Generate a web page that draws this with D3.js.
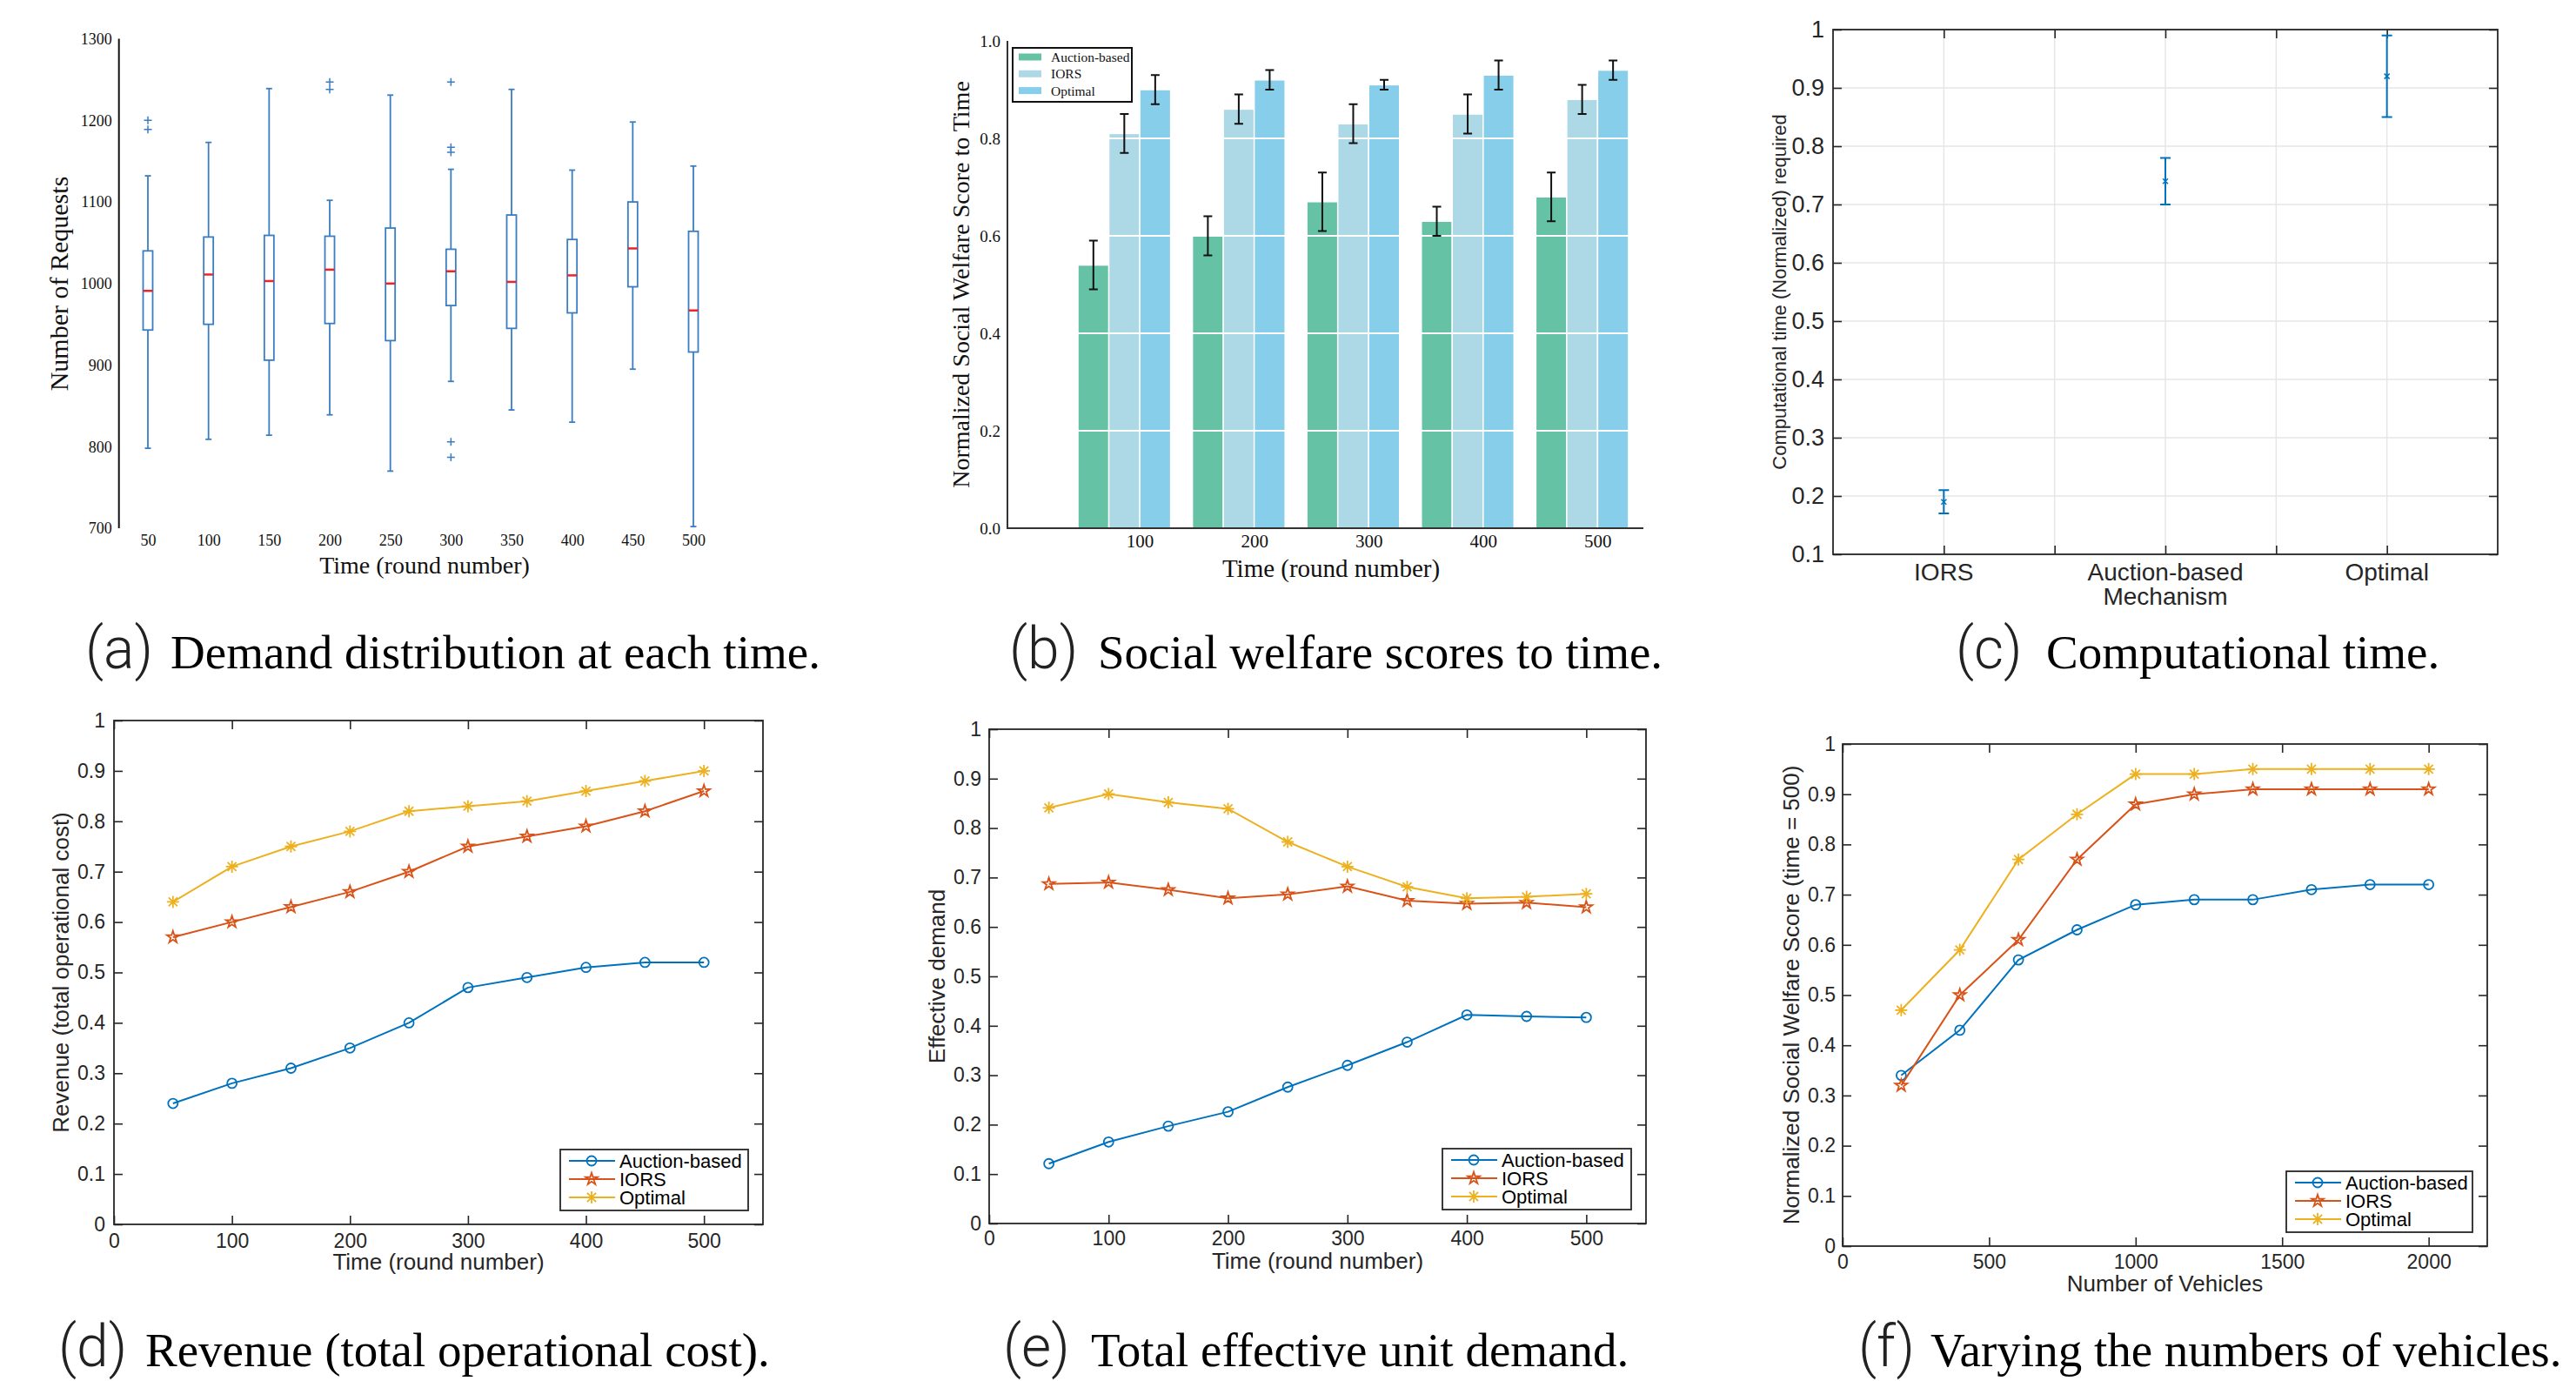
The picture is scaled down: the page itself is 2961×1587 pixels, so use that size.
<!DOCTYPE html>
<html><head><meta charset="utf-8">
<script src="https://cdn.jsdelivr.net/npm/d3@7"></script>
<style>body{margin:0;background:#fff}svg{display:block}</style>
</head><body>
<svg id="fig" width="2961" height="1587"></svg>
<script>
// ---------------- DATA ----------------
// (a) demand distribution box plots
const boxTimes = [50,100,150,200,250,300,350,400,450,500];
const boxWhiskerHigh = [1132,1173,1239,1102,1231,1140,1238,1139,1198,1144];
const boxQ3 = [1040,1057,1059,1058,1068,1042,1084,1054,1100,1064];
const boxMedian = [991,1011,1003,1017,1000,1015,1002,1010,1043,967];
const boxQ1 = [943,950,906,951,930,973,945,964,996,916];
const boxWhiskerLow = [798,809,814,839,770,880,845,830,895,702];
const boxOutliers = [[1200,1189],[],[],[1247,1238],[],[1247,1167,1161,806,787],[],[],[],[]];
const boxYTicks = [700,800,900,1000,1100,1200,1300];

// (b) social welfare bars
const welfareTimes = [100,200,300,400,500];
const welfareAuction = [0.54,0.60,0.67,0.63,0.68];
const welfareAuctionErr = [0.05,0.04,0.06,0.03,0.05];
const welfareIORS = [0.81,0.86,0.83,0.85,0.88];
const welfareIORSErr = [0.04,0.03,0.04,0.04,0.03];
const welfareOptimal = [0.90,0.92,0.91,0.93,0.94];
const welfareOptimalErr = [0.03,0.02,0.01,0.03,0.02];
const welfareYTicks = [0,0.2,0.4,0.6,0.8,1.0];

// (c) computational time
const compMechanisms = ["IORS","Auction-based|Mechanism","Optimal"];
const compMean = [0.19,0.74,0.92];
const compLow = [0.17,0.70,0.85];
const compHigh = [0.21,0.78,0.99];
const compYTicks = [0.1,0.2,0.3,0.4,0.5,0.6,0.7,0.8,0.9,1];

// (d) revenue
const revenueTimes = [50,100,150,200,250,300,350,400,450,500];
const revenueAuction = [0.24,0.28,0.31,0.35,0.40,0.47,0.49,0.51,0.52,0.52];
const revenueIORS = [0.57,0.60,0.63,0.66,0.70,0.75,0.77,0.79,0.82,0.86];
const revenueOptimal = [0.64,0.71,0.75,0.78,0.82,0.83,0.84,0.86,0.88,0.90];

// (e) effective demand
const demandTimes = [50,100,150,200,250,300,350,400,450,500];
const demandAuction = [0.121,0.165,0.197,0.226,0.276,0.320,0.367,0.422,0.419,0.417];
const demandIORS = [0.687,0.690,0.675,0.658,0.666,0.682,0.653,0.647,0.649,0.640];
const demandOptimal = [0.841,0.869,0.852,0.839,0.772,0.722,0.681,0.658,0.661,0.667];

// (f) varying vehicles
const vehicleCounts = [200,400,600,800,1000,1200,1400,1600,1800,2000];
const vehicleAuction = [0.34,0.43,0.57,0.63,0.68,0.69,0.69,0.71,0.72,0.72];
const vehicleIORS = [0.32,0.50,0.61,0.77,0.88,0.90,0.91,0.91,0.91,0.91];
const vehicleOptimal = [0.47,0.59,0.77,0.86,0.94,0.94,0.95,0.95,0.95,0.95];

const timeTicks = [0,100,200,300,400,500];
const vehicleTicks = [0,500,1000,1500,2000];
const unitTicks = [0,0.1,0.2,0.3,0.4,0.5,0.6,0.7,0.8,0.9,1];
const seriesNames = ["Auction-based","IORS","Optimal"];

// ---------------- DRAW ----------------
const svg = d3.select("#fig");
svg.append("rect").attr("width",2961).attr("height",1587).attr("fill","#fff");
const SERIF = "'Liberation Serif','Times New Roman',serif";
const SANS = "'Liberation Sans',Arial,Helvetica,sans-serif";
const INK = "#262626";
const mColors = ["#0072BD","#D95319","#EDB120"];

function markerPath(kind){
  if(kind===0) return d3.symbol(d3.symbolCircle, 95)();
  if(kind===1) return d3.symbol(d3.symbolStar, 60)();
  const r=7, d=r*0.72;
  return `M${-r},0L${r},0M0,${-r}L0,${r}M${-d},${-d}L${d},${d}M${-d},${d}L${d},${-d}`;
}

// ---- panel (a): box plot ----
(function(){
  const g = svg.append("g");
  const x = d3.scaleLinear().domain([50,500]).range([170,797]);
  const y = d3.scaleLinear().domain([700,1300]).range([607,44.6]);
  g.append("line").attr("x1",136.7).attr("x2",136.7).attr("y1",y(1300)).attr("y2",y(700))
    .attr("stroke","#111").attr("stroke-width",2);
  const ya = g.append("g").attr("transform","translate(136.7,0)")
    .call(d3.axisLeft(y).tickValues(boxYTicks).tickSize(0).tickPadding(8).tickFormat(d3.format("d")));
  ya.select(".domain").remove();
  ya.selectAll("text").attr("font-family",SERIF).attr("font-size",18).attr("fill","#111");
  const xa = g.append("g").attr("transform","translate(0,607)")
    .call(d3.axisBottom(x).tickValues(boxTimes).tickSize(0).tickPadding(7).tickFormat(d3.format("d")));
  xa.select(".domain").remove();
  xa.selectAll("text").attr("font-family",SERIF).attr("font-size",18).attr("fill","#111");
  const blue = "#3a7dc2", bw = 11, cw = 7;
  boxTimes.forEach((t,i)=>{
    const cx = x(t);
    g.append("line").attr("x1",cx).attr("x2",cx).attr("y1",y(boxWhiskerHigh[i])).attr("y2",y(boxQ3[i]))
      .attr("stroke",blue).attr("stroke-width",1.8);
    g.append("line").attr("x1",cx).attr("x2",cx).attr("y1",y(boxQ1[i])).attr("y2",y(boxWhiskerLow[i]))
      .attr("stroke",blue).attr("stroke-width",1.8);
    [boxWhiskerHigh[i],boxWhiskerLow[i]].forEach(v=>{
      g.append("line").attr("x1",cx-cw/2).attr("x2",cx+cw/2).attr("y1",y(v)).attr("y2",y(v))
        .attr("stroke",blue).attr("stroke-width",1.8);
    });
    g.append("rect").attr("x",cx-bw/2).attr("width",bw).attr("y",y(boxQ3[i]))
      .attr("height",y(boxQ1[i])-y(boxQ3[i])).attr("fill","#fff").attr("stroke",blue).attr("stroke-width",1.8);
    g.append("line").attr("x1",cx-bw/2).attr("x2",cx+bw/2).attr("y1",y(boxMedian[i])).attr("y2",y(boxMedian[i]))
      .attr("stroke","#e8262b").attr("stroke-width",2.5);
    boxOutliers[i].forEach(v=>{
      g.append("path").attr("d",`M${cx-4.5},${y(v)}L${cx+4.5},${y(v)}M${cx},${y(v)-4.5}L${cx},${y(v)+4.5}`)
        .attr("stroke",blue).attr("stroke-width",1.5).attr("fill","none");
    });
  });
  g.append("text").attr("transform","translate(67,326) rotate(-90)").attr("text-anchor","middle")
    .attr("dy","0.35em").attr("font-family",SERIF).attr("font-size",30).attr("fill","#111").text("Number of Requests");
  g.append("text").attr("x",488).attr("y",659).attr("text-anchor","middle")
    .attr("font-family",SERIF).attr("font-size",28).attr("fill","#111").text("Time (round number)");
})();

// ---- panel (b): grouped bars ----
(function(){
  const g = svg.append("g");
  const x = d3.scaleLinear().domain([-15.6,540]).range([1158,1889]);
  const y = d3.scaleLinear().domain([0,1]).range([607,47]);
  const w = 27;
  const groups = [
    {vals:welfareAuction, err:welfareAuctionErr, color:"#66c2a5", off:-2},
    {vals:welfareIORS, err:welfareIORSErr, color:"#add8e6", off:-1},
    {vals:welfareOptimal, err:welfareOptimalErr, color:"#87ceeb", off:0}
  ];
  groups.forEach(s=>{
    g.selectAll(null).data(welfareTimes).enter().append("rect")
      .attr("x",(t)=>x(t+s.off*w)).attr("width",(t)=>x(t+(s.off+1)*w)-x(t+s.off*w))
      .attr("y",(t,i)=>y(s.vals[i])).attr("height",(t,i)=>y(0)-y(s.vals[i]))
      .attr("fill",s.color).attr("stroke","#fff").attr("stroke-width",1.5);
  });
  [0.2,0.4,0.6,0.8].forEach(v=>{
    g.append("line").attr("x1",1159).attr("x2",1889).attr("y1",y(v)).attr("y2",y(v))
      .attr("stroke","#fff").attr("stroke-width",2);
  });
  groups.forEach(s=>{
    welfareTimes.forEach((t,i)=>{
      const cx = x(t+(s.off+0.5)*w);
      const lo = y(s.vals[i]-s.err[i]), hi = y(s.vals[i]+s.err[i]);
      g.append("path").attr("d",`M${cx},${hi}L${cx},${lo}M${cx-5},${hi}L${cx+5},${hi}M${cx-5},${lo}L${cx+5},${lo}`)
        .attr("stroke","#111").attr("stroke-width",2).attr("fill","none");
    });
  });
  g.append("path").attr("d",`M1158,${y(1)}L1158,607L1889,607`).attr("fill","none")
    .attr("stroke","#333").attr("stroke-width",2);
  const ya = g.append("g").attr("transform","translate(1158,0)")
    .call(d3.axisLeft(y).tickValues(welfareYTicks).tickSize(0).tickPadding(8).tickFormat(d3.format(".1f")));
  ya.select(".domain").remove();
  ya.selectAll("text").attr("font-family",SERIF).attr("font-size",19).attr("fill","#111");
  const xa = g.append("g").attr("transform","translate(0,607)")
    .call(d3.axisBottom(x).tickValues(welfareTimes).tickSize(0).tickPadding(7).tickFormat(d3.format("d")));
  xa.select(".domain").remove();
  xa.selectAll("text").attr("font-family",SERIF).attr("font-size",21).attr("fill","#111");
  const lg = g.append("g");
  lg.append("rect").attr("x",1164).attr("y",55).attr("width",137).attr("height",62)
    .attr("fill","#fff").attr("stroke","#111").attr("stroke-width",2);
  groups.forEach((s,i)=>{
    const cy = 65.5 + i*19.3;
    lg.append("rect").attr("x",1171).attr("y",cy-4).attr("width",26).attr("height",8).attr("fill",s.color);
    lg.append("text").attr("x",1208).attr("y",cy).attr("dy","0.35em").attr("font-family",SERIF)
      .attr("font-size",15.5).attr("fill","#111").text(seriesNames[i]);
  });
  g.append("text").attr("transform","translate(1104,327) rotate(-90)").attr("text-anchor","middle")
    .attr("dy","0.35em").attr("font-family",SERIF).attr("font-size",28).attr("fill","#111")
    .text("Normalized Social Welfare Score to Time");
  g.append("text").attr("x",1530).attr("y",663).attr("text-anchor","middle")
    .attr("font-family",SERIF).attr("font-size",29).attr("fill","#111").text("Time (round number)");
})();

// ---- MATLAB-style axes helper ----
function matlabAxes(g, c){
  const x = d3.scaleLinear().domain(c.xDomain).range([c.left,c.right]);
  const y = d3.scaleLinear().domain(c.yDomain).range([c.bottom,c.top]);
  if(c.grid){
    c.xGrid.forEach(v=>g.append("line").attr("x1",x(v)).attr("x2",x(v)).attr("y1",c.top).attr("y2",c.bottom)
      .attr("stroke","#e6e6e6").attr("stroke-width",1.5));
    c.yTicks.forEach(v=>g.append("line").attr("x1",c.left).attr("x2",c.right).attr("y1",y(v)).attr("y2",y(v))
      .attr("stroke","#e6e6e6").attr("stroke-width",1.5));
  }
  const styleAxis = (sel,fs)=>{
    sel.select(".domain").remove();
    sel.selectAll("line").attr("stroke",INK).attr("stroke-width",1.6);
    sel.selectAll("text").attr("font-family",SANS).attr("font-size",fs).attr("fill",INK);
  };
  const xt = c.xTickAll || c.xTicks;
  styleAxis(g.append("g").attr("transform",`translate(0,${c.bottom})`)
    .call(d3.axisBottom(x).tickValues(xt).tickSize(-10).tickPadding(c.xPad)
      .tickFormat(c.xFormat || d3.format("d"))), c.fs);
  styleAxis(g.append("g").attr("transform",`translate(0,${c.top})`)
    .call(d3.axisTop(x).tickValues(xt).tickSize(-10).tickFormat("")), c.fs);
  styleAxis(g.append("g").attr("transform",`translate(${c.left},0)`)
    .call(d3.axisLeft(y).tickValues(c.yTicks).tickSize(-10).tickPadding(c.yPad).tickFormat(d3.format("~g"))), c.fs);
  styleAxis(g.append("g").attr("transform",`translate(${c.right},0)`)
    .call(d3.axisRight(y).tickValues(c.yTicks).tickSize(-10).tickFormat("")), c.fs);
  g.append("rect").attr("x",c.left).attr("y",c.top).attr("width",c.right-c.left).attr("height",c.bottom-c.top)
    .attr("fill","none").attr("stroke",INK).attr("stroke-width",1.8);
  g.append("text").attr("transform",`translate(${c.yTitleX},${(c.top+c.bottom)/2}) rotate(-90)`)
    .attr("text-anchor","middle").attr("dy","0.35em").attr("font-family",SANS).attr("font-size",c.yTitleSize||26)
    .attr("fill",INK).text(c.yTitle);
  if(c.xTitle) g.append("text").attr("x",(c.left+c.right)/2).attr("y",c.xTitleY).attr("text-anchor","middle")
    .attr("font-family",SANS).attr("font-size",26).attr("fill",INK).text(c.xTitle);
  return {x,y};
}

function linePanel(c, xs, series){
  const g = svg.append("g");
  const {x,y} = matlabAxes(g, c);
  series.forEach((vals,k)=>{
    const line = d3.line().x((d,i)=>x(xs[i])).y(d=>y(d));
    g.append("path").attr("d",line(vals)).attr("fill","none").attr("stroke",mColors[k]).attr("stroke-width",2);
    g.selectAll(null).data(vals).enter().append("path")
      .attr("transform",(d,i)=>`translate(${x(xs[i])},${y(d)})`).attr("d",markerPath(k))
      .attr("fill","none").attr("stroke",mColors[k]).attr("stroke-width",1.8);
  });
  const lw = c.legendW, lh = 70;
  const lx = c.right-17-lw, ly = c.bottom-16-lh;
  const lg = g.append("g");
  lg.append("rect").attr("x",lx).attr("y",ly).attr("width",lw).attr("height",lh)
    .attr("fill","#fff").attr("stroke",INK).attr("stroke-width",1.8);
  seriesNames.forEach((n,k)=>{
    const cy = ly+13+k*21;
    lg.append("line").attr("x1",lx+10).attr("x2",lx+63).attr("y1",cy).attr("y2",cy)
      .attr("stroke",mColors[k]).attr("stroke-width",2);
    lg.append("path").attr("transform",`translate(${lx+36},${cy})`).attr("d",markerPath(k))
      .attr("fill","none").attr("stroke",mColors[k]).attr("stroke-width",1.8);
    lg.append("text").attr("x",lx+68).attr("y",cy).attr("dy","0.36em").attr("font-family",SANS)
      .attr("font-size",22).attr("fill","#000").text(n);
  });
}

// ---- panel (c) ----
(function(){
  const g = svg.append("g");
  const c = {left:2107,right:2871,top:34,bottom:637,xDomain:[0.5,3.5],yDomain:[0.1,1],
    xTicks:[1,2,3], xTickAll:[1,1.5,2,2.5,3], xGrid:[1,1.5,2,2.5,3], yTicks:compYTicks, grid:true,
    xPad:10, yPad:10, fs:27, yTitleX:2045, yTitle:"Computational time (Normalized) required", yTitleSize:22,
    xFormat:()=>""};
  const {x,y} = matlabAxes(g,c);
  compMechanisms.forEach((m,i)=>{
    const t = g.append("text").attr("x",x(i+1)).attr("y",667).attr("text-anchor","middle")
      .attr("font-family",SANS).attr("font-size",28).attr("fill",INK);
    m.split("|").forEach((ln,j)=>t.append("tspan").attr("x",x(i+1)).attr("dy",j?28:0).text(ln));
    const cx = x(i+1), lo=y(compLow[i]), hi=y(compHigh[i]), my=y(compMean[i]);
    g.append("path").attr("d",`M${cx},${hi}L${cx},${lo}M${cx-6},${hi}L${cx+6},${hi}M${cx-6},${lo}L${cx+6},${lo}`)
      .attr("stroke","#0072BD").attr("stroke-width",2).attr("fill","none");
    g.append("path").attr("d",`M${cx-3},${my-3}L${cx+3},${my+3}M${cx-3},${my+3}L${cx+3},${my-3}`)
      .attr("stroke","#0072BD").attr("stroke-width",1.5).attr("fill","none");
  });
})();

// ---- panel (d) ----
linePanel({left:131,right:877,top:828,bottom:1407,xDomain:[0,550],yDomain:[0,1],xTicks:timeTicks,
  yTicks:unitTicks,xPad:11,yPad:10,fs:23,yTitleX:70,yTitle:"Revenue (total operational cost)",
  xTitle:"Time (round number)",xTitleY:1459,legendW:216},
  revenueTimes,[revenueAuction,revenueIORS,revenueOptimal]);

// ---- panel (e) ----
linePanel({left:1137,right:1892,top:838,bottom:1406,xDomain:[0,550],yDomain:[0,1],xTicks:timeTicks,
  yTicks:unitTicks,xPad:9,yPad:9,fs:23,yTitleX:1077,yTitle:"Effective demand",
  xTitle:"Time (round number)",xTitleY:1458,legendW:217},
  demandTimes,[demandAuction,demandIORS,demandOptimal]);

// ---- panel (f) ----
linePanel({left:2118,right:2859,top:855,bottom:1432,xDomain:[0,2200],yDomain:[0,1],xTicks:vehicleTicks,
  yTicks:unitTicks,xPad:10,yPad:8,fs:23,yTitleX:2059,yTitle:"Normalized Social Welfare Score (time = 500)",
  xTitle:"Number of Vehicles",xTitleY:1484,legendW:214},
  vehicleCounts,[vehicleAuction,vehicleIORS,vehicleOptimal]);

// ---- captions ----
const captions = [
  {tag:"(a)", text:"Demand distribution at each time.", tx:98, x:196, y:768},
  {tag:"(b)", text:"Social welfare scores to time.", tx:1160, x:1262, y:768},
  {tag:"(c)", text:"Computational time.", tx:2248, x:2352, y:768},
  {tag:"(d)", text:"Revenue (total operational cost).", tx:67, x:167, y:1570},
  {tag:"(e)", text:"Total effective unit demand.", tx:1153, x:1254, y:1570},
  {tag:"(f)", text:"Varying the numbers of vehicles.", tx:2136, x:2219, y:1570}
];
captions.forEach(c=>{
  svg.append("text").attr("x",c.tx).attr("y",c.y).attr("font-family","Roboto,'Liberation Sans',sans-serif")
    .attr("font-weight",300).attr("font-size",66).attr("fill","#222").text(c.tag);
  svg.append("text").attr("x",c.x).attr("y",c.y).attr("font-family",SERIF)
    .attr("font-size",55).attr("fill","#000").text(c.text);
});
</script>
</body></html>
